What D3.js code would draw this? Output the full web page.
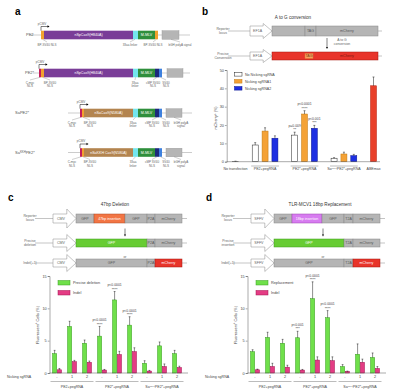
<!DOCTYPE html>
<html>
<head>
<meta charset="utf-8">
<script src="https://cdn.jsdelivr.net/npm/d3@7"></script>
<style>
body { margin: 0; background: #fff; }
text { font-family: "Liberation Sans", Arial, sans-serif; }
</style>
</head>
<body>
<svg id="fig" width="400" height="392"></svg>
<script>
// ---- panel b data (mCherry+ %) ----
var bGroups = ["No transfection", "PE2+pegRNA", "PE2*+pegRNA", "SaKKHPE2*+pegRNA", "ABEmax"];
var bSeries = ["No Nicking sgRNA", "Nicking sgRNA1", "Nicking sgRNA2"];
var bNoTransfection = [0.2];
var bNoNick = [9.1, 14.5, 1.9];
var bNick1 = [16.7, 26.0, 4.2];
var bNick2 = [12.8, 18.2, 3.3];
var bABEmax = [41.4];
var bNoTransfectionErr = [0.1];
var bNoNickErr = [1.3, 1.6, 0.3];
var bNick1Err = [1.8, 1.8, 1.0];
var bNick2Err = [1.3, 1.6, 0.7];
var bABEmaxErr = [4.8];
var bTicks = [0, 10, 20, 30, 40, 50];

// ---- panel c / d data (Fluorescent+ cells %) ----
var editorGroups = ["PE2+pegRNA", "PE2*+pegRNA", "SaKKHPE2*+pegRNA"];
var nickingLabels = ["-", "1", "2"];
var cPrecise = [3.0, 7.2, 4.6, 5.7, 11.3, 7.4, 1.5, 4.2, 3.0];
var cPreciseErr = [0.5, 0.8, 0.5, 1.5, 1.3, 1.3, 0.4, 0.6, 0.5];
var cIndel = [0.5, 1.75, 1.65, 0.45, 2.85, 3.3, 0.3, 1.0, 0.85];
var cIndelErr = [0.2, 0.2, 0.2, 0.1, 0.5, 0.6, 0.1, 0.4, 0.2];
var dReplace = [3.3, 5.5, 4.6, 5.45, 11.5, 8.55, 1.0, 2.9, 2.4];
var dReplaceErr = [0.3, 0.8, 0.6, 1.0, 2.6, 1.1, 0.3, 1.6, 0.7];
var dIndel = [0.5, 1.0, 0.9, 0.45, 2.0, 1.9, 0.25, 1.65, 0.7];
var dIndelErr = [0.1, 0.5, 0.3, 0.1, 0.5, 0.6, 0.05, 0.5, 0.3];
var cdTicks = [0, 5, 10, 15];

// significance labels: [bar index, p text, stars]
var bSig = [[0, "p=0.009", "**"], [1, "p<0.0001", "****"], [2, "p<0.001", "***"]];
var cSig = [[3, "p<0.0001", "****"], [4, "p<0.0001", "****"], [5, "p<0.0001", "****"]];
var dSig = [[3, "p<0.001", "***"], [4, "p<0.0001", "****"], [5, "p<0.0001", "****"]];

var svg = d3.select("#fig");
svg.append("rect").attr("width", 400).attr("height", 392).attr("fill", "#fff");

var GREYTXT = "#666";

function txt(g, x, y, s, size, opts) {
  opts = opts || {};
  var t = g.append("text")
    .attr("x", x).attr("y", y)
    .attr("font-size", size)
    .attr("fill", opts.fill || GREYTXT)
    .attr("text-anchor", opts.anchor || "middle")
    .attr("font-weight", opts.bold ? "bold" : null)
    .text(s);
  return t;
}

function multi(g, x, y, lines, size, opts) {
  lines.forEach(function (l, i) { txt(g, x, y + i * size * 1.25, l, size, opts); });
}

function saKKH(t, pre, post) {
  // "Sa" + superscript KKH + rest
  t.text(null);
  t.append("tspan").text(pre);
  t.append("tspan").attr("dy", -1).attr("font-size", "70%").text("KKH");
  t.append("tspan").attr("dy", 1).text(post);
}

// ================= panel a =================
var ga = svg.append("g");
txt(ga, 15, 15, "a", 10, {fill: "#000", bold: true, anchor: "start"});

var C = {
  purple: "#7a3d98", orange: "#f2a02e", cyan: "#74e6ee", green: "#2f8f3c",
  navy: "#1c2a7c", blue: "#3d80de", grey: "#b5b5b5", brown: "#b3844f", magenta: "#c21d5c"
};

function construct(o) {
  var cy = o.cy, h = 8.6;
  ga.append("line").attr("x1", o.line[0]).attr("x2", o.line[1]).attr("y1", cy).attr("y2", cy)
    .attr("stroke", "#999").attr("stroke-width", 0.5);
  o.segs.forEach(function (s) {
    ga.append("rect").attr("x", s[0]).attr("y", cy - h / 2).attr("width", s[1] - s[0]).attr("height", h)
      .attr("fill", s[2]);
    if (s[3]) txt(ga, (s[0] + s[1]) / 2, cy + 1.3, s[3], 3.6, {fill: "#fff"});
  });
  ga.append("rect").attr("x", o.grey[0]).attr("y", cy - h / 2).attr("width", o.grey[1] - o.grey[0]).attr("height", h)
    .attr("fill", C.grey).attr("stroke", "#999").attr("stroke-width", 0.4);
  // promoter arrow
  var px = o.prom;
  ga.append("path").attr("d", "M" + px + "," + (cy - h / 2) + "V" + (cy - 8.5) + "H" + (px + 7))
    .attr("fill", "none").attr("stroke", "#000").attr("stroke-width", 0.5);
  ga.append("path").attr("d", "M" + (px + 8.5) + "," + (cy - 8.5) + "l-2,-1.2v2.4z").attr("fill", "#000");
  txt(ga, px + 1, cy - 10.3, "pCMV", 3, {});
  var lab = txt(ga, o.labelX, cy + 1.3, o.label, 4, {anchor: "start", fill: "#555"});
  if (o.kkh) saKKH(lab, "Sa", "PE2*");
  // notes below
  o.notes.forEach(function (n) {
    ga.append("line").attr("x1", n[2]).attr("x2", n[0]).attr("y1", cy + h / 2).attr("y2", cy + 7)
      .attr("stroke", "#777").attr("stroke-width", 0.35);
    multi(ga, n[0], cy + 10.5, n[1], 3, {});
  });
}

construct({
  cy: 35, label: "PE2", labelX: 26, line: [30, 190], prom: 41,
  segs: [[41, 44, C.orange], [44, 133, C.purple, "nSpCas9(H840A)"], [133, 138, C.cyan],
         [138, 155, C.green, "M-MLV"], [155, 158, C.orange]],
  grey: [162, 179],
  notes: [[47, ["BP-SV40 NLS"], 42.5], [130, ["33aa linker"], 135], [153, ["BP-SV40 NLS"], 156.5],
          [180, ["bGH polyA signal"], 171]]
});
construct({
  cy: 73, label: "PE2*", labelX: 25, line: [33, 190], prom: 39,
  segs: [[39, 41, C.magenta], [41, 44, C.orange], [44, 133, C.purple, "nSpCas9(H840A)"], [133, 138, C.cyan],
         [138, 155, C.green, "M-MLV"], [155, 159, C.navy], [159, 162, C.blue]],
  grey: [167, 183],
  notes: [[30, ["C-myc", "NLS"], 40], [50, ["BP-SV40", "NLS"], 42.5], [135, ["33aa", "linker"], 135.5],
          [153, ["cMP SV40", "NLS"], 157], [166, ["SV40", "NLS"], 160.5]]
});
construct({
  cy: 113, label: "SaPE2*", labelX: 15, line: [68, 192], prom: 80,
  segs: [[80, 82, C.magenta], [82, 84, C.orange], [84, 133, C.brown, "nSaCas9(N580A)"], [133, 138, C.cyan],
         [138, 155, C.green, "M-MLV"], [155, 159, C.navy], [159, 162, C.blue]],
  grey: [166, 182],
  notes: [[72, ["C-myc", "NLS"], 81], [90, ["BP-SV40", "NLS"], 83], [133, ["33aa", "linker"], 135.5],
          [152, ["cMP SV40", "NLS"], 157], [166, ["SV40", "NLS"], 160.5], [181, ["bGH polyA", "signal"], 174]]
});
construct({
  cy: 152.5, label: "SaKKHPE2*", labelX: 15, kkh: true, line: [68, 192], prom: 80,
  segs: [[80, 82, C.magenta], [82, 84, C.orange], [84, 133, C.brown, "nSaKKH Cas9(N580A)"], [133, 138, C.cyan],
         [138, 155, C.green, "M-MLV"], [155, 159, C.navy], [159, 162, C.blue]],
  grey: [166, 182],
  notes: [[72, ["C-myc", "NLS"], 81], [90, ["BP-SV40", "NLS"], 83], [133, ["33aa", "linker"], 135.5],
          [152, ["cMP SV40", "NLS"], 157], [166, ["SV40", "NLS"], 160.5], [181, ["bGH polyA", "signal"], 174]]
});

// ================= schematic helpers (b, c, d) =================
function promoter(g, x0, x1, cy, h, H, label) {
  var xh = x1 - (x1 - x0) * 0.4;
  g.append("polygon")
    .attr("points", [[x0, cy - h / 2], [xh, cy - h / 2], [xh, cy - H / 2], [x1, cy], [xh, cy + H / 2],
                     [xh, cy + h / 2], [x0, cy + h / 2]].map(function (p) { return p.join(","); }).join(" "))
    .attr("fill", "#fff").attr("stroke", "#888").attr("stroke-width", 0.5);
  txt(g, (x0 + xh) / 2 + 1, cy + 1.3, label, 3.6, {});
}

function locus(g, cy, h, lineX, segs, dx) {
  dx = dx || 0;
  g.append("line").attr("x1", lineX[0]).attr("x2", lineX[1]).attr("y1", cy).attr("y2", cy)
    .attr("stroke", "#888").attr("stroke-width", 0.5);
  segs.forEach(function (s) {
    g.append("rect").attr("x", s[0] + dx).attr("y", cy - h / 2).attr("width", s[1] - s[0]).attr("height", h)
      .attr("fill", s[2]).attr("stroke", s[4] || "#888").attr("stroke-width", 0.5);
    if (s[3]) txt(g, (s[0] + s[1]) / 2 + dx, cy + 1.3, s[3], 3.6, {fill: s[5] || "#555"});
  });
}

function downArrow(g, x, y0, y1) {
  g.append("line").attr("x1", x).attr("x2", x).attr("y1", y0).attr("y2", y1 - 1.5)
    .attr("stroke", "#000").attr("stroke-width", 0.5);
  g.append("path").attr("d", "M" + (x - 1) + "," + (y1 - 2) + "L" + x + "," + y1 + "L" + (x + 1) + "," + (y1 - 2) + "z")
    .attr("fill", "#000");
}

// ================= panel b schematic =================
var gb = svg.append("g");
txt(gb, 202, 15, "b", 10, {fill: "#000", bold: true, anchor: "start"});
txt(gb, 293, 18.5, "A to G conversion", 4.6, {fill: "#333"});
multi(gb, 223, 30, ["Reporter", "locus"], 3.4, {});
locus(gb, 31, 10, [228, 382], [[272, 305, C.grey], [305, 316, C.grey, "TAG"], [316, 378, C.grey, "mCherry"]]);
promoter(gb, 250, 272, 31, 10, 15, "EF1A");
downArrow(gb, 327, 38, 49);
multi(gb, 342, 41, ["A to G", "conversion"], 3.4, {});
multi(gb, 223, 55, ["Precise", "Conversion"], 3.4, {});
locus(gb, 56, 8, [228, 382], [[272, 378, "#e8342a", null, "#a3160f"]]);
locus(gb, 56, 5, [305, 305], [[305, 313, "#f6a15e", "TAG", "#e07030", "#7a3a10"]]);
txt(gb, 347, 57.3, "mCherry", 3.6, {fill: "#7a1a10"});
promoter(gb, 250, 272, 56, 8, 13, "EF1A");

// ================= panel b chart =================
var bTop = 70, bBot = 161.7, bLeft = 226.7, bRight = 380;
var yb = d3.scaleLinear().domain([0, 50]).range([bBot, bTop]);

// lay bars out in slots: one empty slot between groups
var bBars = [];
var slot = 0;
bBars.push({g: 0, v: bNoTransfection[0], e: bNoTransfectionErr[0], s: -1, slot: slot}); slot += 2;
for (var gi = 0; gi < 3; gi++) {
  [bNoNick, bNick1, bNick2].forEach(function (arr, si) {
    var errs = [bNoNickErr, bNick1Err, bNick2Err][si];
    bBars.push({g: gi + 1, v: arr[gi], e: errs[gi], s: si, slot: slot});
    slot += 1;
  });
  slot += 1;
}
bBars.push({g: 4, v: bABEmax[0], e: bABEmaxErr[0], s: 3, slot: slot});
var xb = d3.scaleLinear().domain([0, slot]).range([235.5, 373.5]);
var bFill = ["#ffffff", "#f4a236", "#1d2fe2", "#e8402a"];
var bStroke = ["#222", "#c27810", "#0b178f", "#b3200f"];
var bw = 6;

var gbc = gb.append("g");
gbc.selectAll("rect.bar").data(bBars).enter().append("rect")
  .attr("x", function (d) { return xb(d.slot) - bw / 2; })
  .attr("y", function (d) { return yb(d.v); })
  .attr("width", bw)
  .attr("height", function (d) { return bBot - yb(d.v); })
  .attr("fill", function (d) { return d.s < 0 ? "#fff" : bFill[d.s]; })
  .attr("stroke", function (d) { return d.s < 0 ? "#222" : bStroke[d.s]; })
  .attr("stroke-width", 0.5);
gbc.selectAll("path.err").data(bBars).enter().append("path")
  .attr("d", function (d) {
    var x = xb(d.slot), t = yb(d.v + d.e);
    return "M" + x + "," + yb(d.v) + "V" + t + "M" + (x - 1) + "," + t + "H" + (x + 1);
  })
  .attr("stroke", "#000").attr("stroke-width", 0.45).attr("fill", "none");

var yAxisB = gbc.append("g").attr("transform", "translate(" + bLeft + ",0)")
  .call(d3.axisLeft(yb).tickValues(bTicks).tickSize(1.8).tickPadding(1));
yAxisB.selectAll("text").attr("font-size", 3.8).attr("fill", "#444");
yAxisB.selectAll("line,path").attr("stroke", "#555").attr("stroke-width", 0.5);
gbc.append("line").attr("x1", bLeft).attr("x2", bRight).attr("y1", bBot).attr("y2", bBot)
  .attr("stroke", "#555").attr("stroke-width", 0.5);
var yl = gbc.append("text").attr("transform", "translate(217," + 118 + ") rotate(-90)")
  .attr("text-anchor", "middle").attr("font-size", 3.8).attr("fill", "#444");
yl.append("tspan").text("mCherry");
yl.append("tspan").attr("dy", -1.2).attr("font-size", 2.8).text("+");
yl.append("tspan").attr("dy", 1.2).text(" (%)");

// x group labels with overlines
bGroups.forEach(function (name, gi) {
  var bars = bBars.filter(function (d) { return d.g === gi; });
  var x0 = xb(bars[0].slot) - 4, x1 = xb(bars[bars.length - 1].slot) + 4;
  var cx = (x0 + x1) / 2;
  var t = txt(gbc, cx, 170, name, 3.6, {fill: "#444"});
  if (name.indexOf("SaKKH") === 0) saKKH(t, "Sa", "PE2*+pegRNA");
  if (bars.length > 1) {
    gbc.append("line").attr("x1", x0).attr("x2", x1).attr("y1", 166).attr("y2", 166)
      .attr("stroke", "#555").attr("stroke-width", 0.4);
  }
});

// significance on PE2* group
bSig.forEach(function (s) {
  var d = bBars.filter(function (b) { return b.g === 2; })[s[0]];
  var top = yb(d.v + d.e);
  txt(gbc, xb(d.slot), top - 1.2, s[2], 3.8, {fill: "#333"});
  txt(gbc, xb(d.slot), top - 5.5, s[1], 3.4, {fill: "#444"});
});

// legend b
bSeries.forEach(function (name, i) {
  var y = 72.5 + i * 7;
  gbc.append("rect").attr("x", 234.5).attr("y", y).attr("width", 7.5).attr("height", 3.6)
    .attr("fill", bFill[i]).attr("stroke", bStroke[i]).attr("stroke-width", 0.5);
  txt(gbc, 245, y + 3.2, name, 3.6, {anchor: "start", fill: "#444"});
});

// ================= panels c and d =================
function panelCD(o) {
  var g = svg.append("g");
  var dx = o.dx;
  txt(g, 8 + dx, 201, o.letter, 10, {fill: "#000", bold: true, anchor: "start"});
  txt(g, o.titleX, 205.5, o.title, 4.6, {fill: "#333"});

  // schematic rows
  multi(g, 30 + dx, 217, ["Reporter", "locus"], 3.4, {});
  locus(g, 218.5, 9, [35 + dx, 187 + dx], o.reporter, dx);
  promoter(g, 53 + dx, 76 + dx, 218.5, 9, 19, o.promoter);
  downArrow(g, 125 + dx, 228.5, 236.5);
  multi(g, 30 + dx, 242, o.preciseLabel, 3.4, {});
  locus(g, 243, 8, [35 + dx, 187 + dx], o.precise, dx);
  promoter(g, 53 + dx, 76 + dx, 243, 8, 17, o.promoter);
  txt(g, 125 + dx, 258, "or", 3.4, {});
  txt(g, 30 + dx, 264.3, "Indel(+1)", 3.4, {});
  locus(g, 263, 8, [35 + dx, 187 + dx], o.indel, dx);
  promoter(g, 53 + dx, 76 + dx, 263, 8, 17, o.promoter);

  // chart
  var y = d3.scaleLinear().domain([0, 15]).range([373, 276]);
  var keys = d3.range(9);
  var x = d3.scaleBand().domain(keys).range([49.5 + dx, 184.5 + dx]);
  var bw = 4.2;
  var series = [
    {vals: o.main, errs: o.mainErr, fill: "#6fe04a", stroke: "#3b9e22", off: -bw - 0.3},
    {vals: o.indelV, errs: o.indelErr, fill: "#e43c84", stroke: "#a3104f", off: 0.3}
  ];
  series.forEach(function (s) {
    var bars = keys.map(function (k) { return {k: k, v: s.vals[k], e: s.errs[k]}; });
    g.selectAll(null).data(bars).enter().append("rect")
      .attr("x", function (d) { return x(d.k) + x.bandwidth() / 2 + s.off; })
      .attr("y", function (d) { return y(d.v); })
      .attr("width", bw)
      .attr("height", function (d) { return y(0) - y(d.v); })
      .attr("fill", s.fill).attr("stroke", s.stroke).attr("stroke-width", 0.5);
    g.selectAll(null).data(bars).enter().append("path")
      .attr("d", function (d) {
        var cx = x(d.k) + x.bandwidth() / 2 + s.off + bw / 2, t = y(d.v + d.e);
        return "M" + cx + "," + y(d.v) + "V" + t + "M" + (cx - 0.9) + "," + t + "H" + (cx + 0.9);
      })
      .attr("stroke", "#000").attr("stroke-width", 0.45).attr("fill", "none");
  });

  var ax = g.append("g").attr("transform", "translate(" + (49.5 + dx) + ",0)")
    .call(d3.axisLeft(y).tickValues(cdTicks).tickSize(1.8).tickPadding(1));
  ax.selectAll("text").attr("font-size", 3.8).attr("fill", "#444");
  ax.selectAll("line,path").attr("stroke", "#555").attr("stroke-width", 0.5);
  g.append("line").attr("x1", 49.5 + dx).attr("x2", 188 + dx).attr("y1", 373).attr("y2", 373)
    .attr("stroke", "#555").attr("stroke-width", 0.5);
  var yl = g.append("text").attr("transform", "translate(" + (38.5 + dx) + ",325) rotate(-90)")
    .attr("text-anchor", "middle").attr("font-size", 3.8).attr("fill", "#444");
  yl.append("tspan").text("Fluorescent");
  yl.append("tspan").attr("dy", -1.2).attr("font-size", 2.8).text("+");
  yl.append("tspan").attr("dy", 1.2).text(" Cells (%)");

  // x labels
  txt(g, 7 + dx, 378, "Nicking sgRNA", 3.6, {anchor: "start", fill: "#444"});
  keys.forEach(function (k) {
    txt(g, x(k) + x.bandwidth() / 2, 378, nickingLabels[k % 3], 3.8, {fill: "#444"});
  });
  editorGroups.forEach(function (name, gi) {
    var x0 = x(gi * 3) + 1, x1 = x(gi * 3 + 2) + x.bandwidth() - 1;
    g.append("line").attr("x1", x0).attr("x2", x1).attr("y1", 381.5).attr("y2", 381.5)
      .attr("stroke", "#555").attr("stroke-width", 0.4);
    var t = txt(g, (x0 + x1) / 2, 388, name, 3.6, {fill: "#444"});
    if (name.indexOf("SaKKH") === 0) saKKH(t, "Sa", "PE2*+pegRNA");
  });

  // significance on main series
  o.sig.forEach(function (s) {
    var k = s[0];
    var cx = x(k) + x.bandwidth() / 2 - bw / 2 - 0.3;
    var top = y(o.main[k] + o.mainErr[k]);
    txt(g, cx, top - 0.8, s[2], 3.8, {fill: "#333"});
    txt(g, cx, top - 5.2, s[1], 3.4, {fill: "#444"});
  });

  // legend
  o.legend.forEach(function (name, i) {
    var ly = 280.5 + i * 10;
    g.append("rect").attr("x", 58 + dx).attr("y", ly).attr("width", 12).attr("height", 4.5)
      .attr("fill", series[i].fill).attr("stroke", series[i].stroke).attr("stroke-width", 0.5);
    txt(g, 73 + dx, ly + 3.5, name, 3.8, {anchor: "start", fill: "#444"});
  });
}

var GREEN = "#67cc33";
panelCD({
  dx: 0, letter: "c", title: "47bp Deletion", titleX: 115, promoter: "CMV",
  reporter: [[76, 94, C.grey, "GFP"], [94, 125, "#f27544", "47bp insertion", "#b04a20", "#fff"],
             [125, 147, C.grey, "GFP"], [147, 155, C.grey, "P2A"], [155, 182, C.grey, "mCherry"]],
  preciseLabel: ["Precise", "deletion"],
  precise: [[76, 147, GREEN, "GFP", "#3f9a1c", "#fff"], [147, 155, C.grey, "P2A"], [155, 182, C.grey, "mCherry"]],
  indel: [[76, 147, C.grey, "GFP"], [147, 155, C.grey, "P2A"], [155, 182, "#e8342a", "mCherry", "#a3160f", "#fff"]],
  main: cPrecise, mainErr: cPreciseErr, indelV: cIndel, indelErr: cIndelErr,
  sig: cSig, legend: ["Precise deletion", "Indel"]
});
panelCD({
  dx: 198, letter: "d", title: "TLR-MCV1 18bp Replacement", titleX: 320, promoter: "SFFV",
  reporter: [[76, 94, C.grey, "GFP"], [94, 124, "#d77cf0", "18bp insertion", "#9a40b0", "#fff"],
             [124, 146, C.grey, "GFP"], [146, 155, C.grey, "T2A"], [155, 182, C.grey, "mCherry"]],
  preciseLabel: ["Precise", "insertion"],
  precise: [[76, 146, GREEN, "GFP", "#3f9a1c", "#fff"], [146, 155, C.grey, "T2A"], [155, 182, C.grey, "mCherry"]],
  indel: [[76, 146, C.grey, "GFP"], [146, 155, C.grey, "T2A"], [155, 182, "#e8342a", "mCherry", "#a3160f", "#fff"]],
  main: dReplace, mainErr: dReplaceErr, indelV: dIndel, indelErr: dIndelErr,
  sig: dSig, legend: ["Replacement", "Indel"]
});
</script>
</body>
</html>
